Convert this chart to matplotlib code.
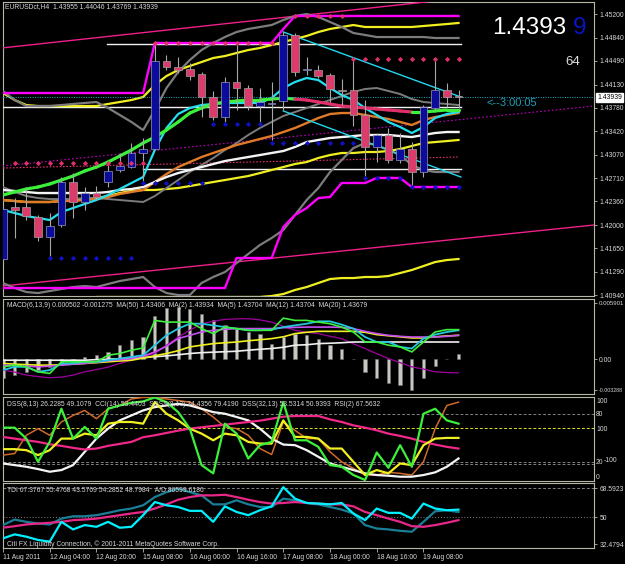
import matplotlib
matplotlib.use("Agg")
import matplotlib.pyplot as plt
import numpy as np
from matplotlib.collections import LineCollection
from matplotlib.transforms import blended_transform_factory

plt.rcParams['font.family'] = ['Liberation Sans', 'DejaVu Sans']

# ---------------- data ----------------
time_labels = ["11 Aug 2011", "12 Aug 04:00", "12 Aug 20:00", "15 Aug 08:00", "16 Aug 00:00",
               "16 Aug 16:00", "17 Aug 08:00", "18 Aug 00:00", "18 Aug 16:00", "19 Aug 08:00"]
time_label_bars = [0, 4, 8, 12, 16, 20, 24, 28, 32, 36]

opens = [1.41486, 1.42274, 1.42274, 1.42122, 1.41819, 1.42001, 1.42653, 1.42350, 1.42486, 1.42653,
         1.42835, 1.42880, 1.43093, 1.43153, 1.44487, 1.44396, 1.44366, 1.44290, 1.43942, 1.43638,
         1.44169, 1.44078, 1.43805, 1.43836, 1.43881, 1.44882, 1.44351, 1.44351, 1.44275, 1.44048,
         1.44048, 1.43669, 1.43184, 1.43366, 1.42986, 1.43153, 1.42805, 1.43775, 1.44048, 1.43955]
highs = [1.42304, 1.42410, 1.42562, 1.42153, 1.42183, 1.42729, 1.42789, 1.42577, 1.42592, 1.42911,
         1.43093, 1.43244, 1.43320, 1.44760, 1.44578, 1.44548, 1.44457, 1.44321, 1.44033, 1.44245,
         1.44730, 1.44124, 1.44078, 1.44169, 1.44927, 1.44912, 1.44548, 1.44427, 1.44305, 1.44215,
         1.44533, 1.43896, 1.43396, 1.43472, 1.43396, 1.43259, 1.43820, 1.44533, 1.44154, 1.44046]
lows = [1.41440, 1.41804, 1.42077, 1.41759, 1.41501, 1.41971, 1.42107, 1.42228, 1.42380, 1.42577,
        1.42805, 1.42865, 1.42638, 1.43138, 1.44351, 1.44305, 1.44199, 1.43638, 1.43593, 1.43563,
        1.43745, 1.43745, 1.43517, 1.43290, 1.43745, 1.44260, 1.44275, 1.44230, 1.43866, 1.43820,
        1.43502, 1.42683, 1.42956, 1.42941, 1.42941, 1.42577, 1.42729, 1.43745, 1.43790, 1.43769]
closes = [1.42244, 1.42228, 1.42137, 1.41819, 1.41986, 1.42653, 1.42350, 1.42486, 1.42425, 1.42820,
          1.42896, 1.43093, 1.43153, 1.44487, 1.44396, 1.44351, 1.44260, 1.43942, 1.43638, 1.44169,
          1.44078, 1.43805, 1.43866, 1.43851, 1.44882, 1.44321, 1.44366, 1.44260, 1.44063, 1.44033,
          1.43669, 1.43184, 1.43366, 1.42986, 1.43153, 1.42805, 1.43790, 1.44048, 1.43942, 1.43939]

price_ticks = [1.45200, 1.44840, 1.44490, 1.44130, 1.43780, 1.43420, 1.43070, 1.42710,
               1.42360, 1.42000, 1.41650, 1.41290, 1.40940]
last_price = 1.43939

chan_upper = [1.44002]*13 + [1.44760]*11 + [1.44973] + [1.45170]*15
chan_lower = [1.41046]*20 + [1.41501]*4 + [1.41971, 1.42153, 1.42259, 1.42410, 1.42426] + \
             [1.42638]*3 + [1.42714]*3 + [1.42577]*5
bb_upper = [1.44033, 1.43896, 1.43805, 1.43805, 1.43805, 1.43820, 1.43836, 1.43851, 1.43866, 1.43775,
            1.43669, 1.43563, 1.43441, 1.43745, 1.44078, 1.44321, 1.44503, 1.44654, 1.44760, 1.44851,
            1.44927, 1.44973, 1.45003, 1.45033, 1.45109, 1.45170, 1.45200, 1.45155, 1.45079, 1.45003,
            1.44912, 1.44882, 1.44851, 1.44851, 1.44851, 1.44851, 1.44851, 1.44836, 1.44836, 1.44836]
bb_lower = [1.41122, 1.41046, 1.40985, 1.40970, 1.41000, 1.41031, 1.41061, 1.41076, 1.41061, 1.41107,
            1.41152, 1.41182, 1.41213, 1.41061, 1.40970, 1.40940, 1.40940, 1.41122, 1.41213, 1.41288,
            1.41425, 1.41562, 1.41698, 1.41804, 1.41925, 1.42153, 1.42380, 1.42562, 1.42805, 1.42987,
            1.43168, 1.43244, 1.43214, 1.43138, 1.43062, 1.42911, 1.42835, 1.42805, 1.42805, 1.42805]
bb_mid = [1.42577, 1.42502, 1.42441, 1.42410, 1.42395, 1.42395, 1.42395, 1.42410, 1.42410, 1.42395,
          1.42380, 1.42365, 1.42350, 1.42441, 1.42562, 1.42683, 1.42805, 1.42911, 1.43017, 1.43138,
          1.43244, 1.43366, 1.43472, 1.43563, 1.43654, 1.43714, 1.43775, 1.43836, 1.43896, 1.43957,
          1.44018, 1.44063, 1.44078, 1.44033, 1.43987, 1.43911, 1.43866, 1.43851, 1.43836, 1.43820]
env_upper = [1.44002, 1.43896, 1.43820] + [1.43805]*6 + [1.43836, 1.43866, 1.43896, 1.43942,
             1.44124, 1.44260, 1.44351, 1.44412, 1.44472, 1.44533, 1.44563, 1.44609, 1.44654, 1.44685,
             1.44730, 1.44776, 1.44821, 1.44867, 1.44927, 1.44973, 1.45003, 1.45033] + [1.45003]*5 + \
            [1.45018, 1.45033, 1.45048, 1.45064]
env_mid = [1.42380, 1.42365, 1.42350, 1.42350, 1.42350, 1.42365, 1.42380, 1.42395, 1.42410, 1.42441,
           1.42486, 1.42517, 1.42532, 1.42532, 1.42547, 1.42562, 1.42592, 1.42623, 1.42653, 1.42683,
           1.42714, 1.42744, 1.42789, 1.42835, 1.42880, 1.42926, 1.42956, 1.43017, 1.43062, 1.43093,
           1.43093, 1.43108, 1.43108, 1.43123, 1.43153, 1.43199, 1.43244, 1.43259, 1.43274, 1.43290]
env_lower = [1.40864]*6 + [1.40879, 1.40894] + [1.40910]*15 + [1.40925, 1.40955, 1.41016, 1.41061,
             1.41122, 1.41182, 1.41197, 1.41197, 1.41213, 1.41213, 1.41228, 1.41273, 1.41319, 1.41379,
             1.41440, 1.41470, 1.41486]
ma_color = [1.42456, 1.42502, 1.42547, 1.42577, 1.42623, 1.42683, 1.42744, 1.42820, 1.42880, 1.42956,
            1.43047, 1.43138, 1.43244, 1.43335, 1.43441, 1.43563, 1.43699, 1.43775, 1.43836, 1.43866,
            1.43881, 1.43896, 1.43896, 1.43911, 1.43926, 1.43911, 1.43896, 1.43866, 1.43836, 1.43805,
            1.43790, 1.43775, 1.43760, 1.43745, 1.43730, 1.43714, 1.43714, 1.43730, 1.43745, 1.43745]
ma_up = [True]*26 + [False]*10 + [True]*4
ma_cyan = [1.42229, 1.42183, 1.42137, 1.42107, 1.42077, 1.42198, 1.42259, 1.42320, 1.42380, 1.42456,
           1.42547, 1.42638, 1.42729, 1.43138, 1.43472, 1.43684, 1.43775, 1.43820, 1.43836, 1.43851,
           1.43851, 1.43851, 1.43851, 1.43926, 1.44078, 1.44169, 1.44230, 1.44199, 1.44078, 1.43972,
           1.43896, 1.43775, 1.43669, 1.43563, 1.43487, 1.43396, 1.43487, 1.43623, 1.43684, 1.43714]
ma_white = [1.42532, 1.42517, 1.42502] + [1.42486]*6 + [1.42502, 1.42532, 1.42547, 1.42577,
            1.42653, 1.42729, 1.42789, 1.42835, 1.42880, 1.42926, 1.42971, 1.43002, 1.43032, 1.43062,
            1.43093, 1.43123, 1.43184, 1.43259, 1.43290, 1.43320, 1.43335, 1.43350] + [1.43366]*3 + \
           [1.43350, 1.43335, 1.43366, 1.43396, 1.43411, 1.43411]
ma_orange = [1.42380, 1.42365, 1.42350, 1.42350, 1.42350, 1.42365, 1.42365, 1.42380, 1.42395, 1.42426,
             1.42471, 1.42502, 1.42532, 1.42653, 1.42774, 1.42880, 1.42956, 1.43032, 1.43093, 1.43153,
             1.43214, 1.43259, 1.43305, 1.43350, 1.43411, 1.43472, 1.43547, 1.43623, 1.43684, 1.43699,
             1.43699, 1.43669, 1.43638, 1.43608, 1.43563, 1.43517, 1.43593, 1.43638, 1.43669, 1.43699]

# drawn objects: (bar, price) anchor points
trend_top = ([-0.1, 36.6], [1.44685, 1.45390])
trend_bottom = ([-0.05, 50.6], [1.41076, 1.42001])
trend_dotted = ([-0.05, 50.6], [1.42896, 1.43805])
trend_pink_dotted = ([0, 39], [1.42865, 1.43032])
cyan_chan_top = ([24, 39.2], [1.44927, 1.43942])
cyan_chan_bot = ([24, 39.2], [1.43730, 1.42729])
hlines_white = [(1.44745, 8.9, 39.2), (1.43797, -0.1, 39.2), (1.42850, 12, 39.2)]

pink_marks_bars = list(range(1, 13)) + list(range(13, 24)) + list(range(25, 30)) + list(range(30, 40))
pink_marks_vals = [1.42941]*12 + [1.44760]*11 + [1.45170]*5 + [1.44518]*10
blue_marks_bars = list(range(4, 12)) + list(range(12, 18)) + list(range(18, 23)) + list(range(23, 31)) + \
                  list(range(31, 35)) + list(range(35, 40))
blue_marks_vals = [1.41501]*8 + [1.42638]*6 + [1.43532]*5 + [1.43244]*8 + [1.42714]*4 + [1.42577]*5

# MACD window (values in 1e-4)
macd_hist = [-20.3, -16.9, -14.0, -11.6, -8.1, -4.5, -2.8, 2.4, 4.2, 7.7, 14.8, 20.0, 23.5, 45.6, 54.1,
             55.1, 53.4, 48.2, 41.1, 35.8, 32.4, 28.8, 27.1, 16.5, 23.5, 27.1, 25.3, 21.8, 14.8, 11.3,
             0.7, -13.4, -20.0, -25.6, -27.4, -32.7, -20.3, -7.1, 0.7, 5.0]
macd_green = [-8.1, -6.3, -8.1, -13.4, -15.1, -2.8, -2.8, -2.8, -2.8, 4.2, 6.0, 9.5, 11.9, 41.1, 39.3,
              39.3, 39.3, 32.4, 27.1, 34.0, 32.4, 30.6, 30.6, 30.6, 43.5, 41.1, 41.1, 39.3, 37.6, 34.0,
              28.8, 18.2, 18.2, 14.8, 13.0, 7.7, 18.2, 28.8, 31.3, 31.3]
macd_cyan = [-11.6, -8.1, -8.1, -13.4, -11.6, -4.5, -4.5, -2.8, -2.8, -1.1, 0.7, 2.4, 4.2, 14.8, 25.3,
             32.4, 37.6, 37.6, 35.8, 34.0, 32.4, 30.6, 30.6, 31.3, 34.0, 35.8, 37.6, 40.1, 40.1, 36.6,
             32.4, 23.5, 18.2, 18.2, 13.0, 11.3, 21.8, 26.0, 28.8, 30.6]
macd_violet = [-6.3, -6.9, -7.4, -8.1, -7.4, -6.3, -5.3, -4.5, -3.2, -1.6, -0.5, 0.7, 3.2, 7.7, 13.7,
               21.8, 25.3, 28.8, 30.6, 31.6, 32.4, 32.4, 32.4, 32.4, 33.4, 33.7, 34.0, 34.0, 34.0, 33.7,
               32.4, 29.5, 27.1, 25.3, 24.2, 23.5, 23.5, 23.5, 24.2, 25.3]
macd_yellow = [-4.5, -5.3, -5.8, -6.3, -6.3, -5.8, -5.3, -4.5, -3.7, -2.8, -1.9, -1.1, 1.1, 3.7, 6.0,
               9.0, 13.0, 14.8, 16.5, 17.4, 18.2, 19.5, 20.6, 21.8, 23.7, 27.1, 28.5, 29.5, 29.5, 29.5,
               29.5, 28.5, 26.0, 24.8, 23.7, 22.5, 22.5, 23.7, 24.6, 25.3]
macd_white = [-1.1]*8 + [-0.5, 0, 0.5, 0.7, 1.6, 2.6, 3.5, 4.7, 6.0, 6.9, 7.4, 7.9, 8.4, 9.5, 10.5,
              11.3, 12.6, 14.8, 15.3, 16.5, 16.9, 17.4] + [18.2]*10
macd_signal = [-11.6, -13.7, -16.9, -18.4, -19.7, -19.0, -16.9, -13.4, -11.1, -8.4, -4.5, -1.1, 2.6, 6.0,
               14.8, 23.5, 30.6, 37.6, 40.1, 42.2, 42.7, 42.9, 41.6, 39.3, 34.8, 30.6, 28.5, 27.1, 24.2,
               21.8, 16.3, 11.3, 5.8, 0.7, -3.7, -8.1, -10.5, -13.4, -14.2, -14.5]

# DSS / CCI window (0..100 scale)
dss_green = [64.5, 64.5, 50.2, 19.9, 45.9, 89.2, 50.2, 65.4, 50.2, 89.2, 93.5, 97.0, 98.7, 104.0, 97.8,
             84.8, 63.2, 15.6, 4.8, 69.7, 56.7, 24.2, 41.6, 45.9, 97.8, 48.0, 48.0, 39.4, 15.6, 13.4,
             2.6, -3.9, 32.0, 12.1, 41.6, 13.4, 82.7, 89.2, 74.0, 69.7]
dss_yellow = [36.4, 36.4, 35.1, 28.6, 35.1, 50.2, 50.2, 56.7, 54.5, 69.7, 71.9, 71.9, 69.7, 97.8, 82.7,
              74.0, 63.2, 56.7, 48.0, 56.7, 54.5, 45.9, 43.7, 43.7, 74.0, 52.4, 52.4, 50.2, 37.2, 37.2,
              19.9, 2.6, 9.1, 4.8, 17.7, 15.6, 41.6, 50.2, 51.1, 51.1]
dss_white = [17.7, 15.6, 13.4, 10.4, 6.9, 9.1, 15.6, 32.9, 50.2, 63.2, 74.0, 80.5, 87.0, 91.3, 93.5,
             95.6, 93.5, 89.2, 84.8, 82.7, 78.4, 74.0, 63.2, 50.2, 42.4, 41.6, 35.1, 26.4, 17.7, 13.4,
             9.1, 4.8, 2.6, 1.7, 0.4, 0.4, 2.6, 6.1, 13.4, 24.2]
dss_pink = [52.4, 50.2, 48.0, 45.9, 42.8, 40.7, 38.1, 35.9, 37.2, 40.7, 43.3, 45.9, 52.0, 54.5, 57.6,
            60.6, 63.2, 65.0, 66.7, 68.4, 70.2, 71.9, 73.6, 76.2, 78.8, 79.7, 79.7, 79.7, 75.3, 71.9,
            67.5, 64.5, 61.0, 56.7, 53.7, 50.2, 45.9, 42.4, 39.4, 37.2]
dss_orange = [28.6, 30.7, 54.5, 63.2, 54.5, 71.9, 80.5, 87.0, 76.2, 89.2, 93.5, 102.0, 104.0, 104.0,
              102.0, 99.9, 97.8, 89.2, 78.4, 65.4, 63.2, 54.5, 37.2, 29.4, 71.9, 61.0, 50.2, 50.2, 32.9,
              19.9, 11.3, 2.6, 2.6, 6.1, 4.8, 2.6, 19.9, 63.2, 93.5, 97.8]

# TDI window
tdi_price = [36.3, 38.9, 37.4, 35.3, 34.2, 47.0, 42.1, 44.9, 43.8, 47.0, 43.2, 43.8, 51.3, 59.8, 57.7,
             56.6, 54.1, 54.1, 47.0, 57.0, 53.4, 51.3, 54.5, 57.0, 69.4, 62.0, 59.2, 58.8, 58.3, 59.2,
             52.4, 48.1, 55.6, 52.8, 52.8, 49.1, 58.8, 55.6, 54.5, 54.9]
tdi_signal = [43.2, 44.2, 45.3, 45.9, 46.4, 47.0, 48.1, 48.5, 49.1, 50.2, 51.3, 52.4, 53.4, 55.6, 58.3,
              61.3, 63.0, 64.1, 64.1, 64.5, 63.0, 61.3, 59.8, 58.8, 59.2, 59.8, 59.2, 58.8, 58.3, 58.3,
              57.0, 53.4, 51.3, 49.1, 47.0, 44.2, 43.8, 44.9, 46.4, 48.1]
tdi_base = [44.9, 48.5, 47.0, 45.9, 45.3, 49.1, 50.6, 50.6, 51.3, 52.8, 54.5, 55.6, 57.7, 63.0, 66.2,
            68.4, 66.2, 64.1, 58.3, 58.3, 60.9, 58.3, 56.6, 56.6, 62.0, 60.9, 59.2, 58.3, 56.6, 54.9,
            52.4, 44.9, 42.7, 42.1, 41.2, 40.6, 47.0, 53.8, 54.5, 53.4]

# ---------------- figure ----------------
W, H = 625, 564
fig = plt.figure(figsize=(W / 100, H / 100), dpi=100, facecolor='black')
FRAME = '#B8B8A8'
TXT = '#D8D8D8'
FS = 4.9


def axrect(top, bottom, left=2.5, right=594):
    return [left / W, (H - bottom) / H, (right - left) / W, (bottom - top) / H]


n = len(opens)
x = np.arange(n)
XLIM = (-0.04, 50.6)

axes = []
for top, bottom in [(2, 296), (298.5, 394), (396.5, 481), (483, 548)]:
    a = fig.add_axes(axrect(top, bottom))
    a.set_facecolor('black')
    a.set_xlim(*XLIM)
    for s in a.spines.values():
        s.set_color(FRAME)
        s.set_linewidth(0.8)
    a.yaxis.tick_right()
    a.tick_params(axis='y', colors=FRAME, labelcolor=TXT, labelsize=FS, length=2.5, width=0.6, pad=1.5)
    a.tick_params(axis='x', bottom=False, labelbottom=False)
    axes.append(a)
ax, axm, axd, axt = axes

# ---- main price panel ----
ax.set_ylim(1.40925, 1.45382)
ax.set_yticks(price_ticks)
ax.set_yticklabels([f"{p:.5f}" for p in price_ticks])

ax.plot(*trend_top, color='#F0208A', lw=1.0, zorder=3)
ax.plot(*trend_bottom, color='#F0208A', lw=1.0, zorder=3)
ax.plot(*trend_dotted, color='#C000C0', lw=0.8, ls=(0, (1.5, 2)), zorder=3)
ax.plot(*trend_pink_dotted, color='#E0306A', lw=0.8, ls=(0, (1.5, 1.5)), zorder=3)
for val, x0, x1 in hlines_white:
    ax.plot([x0, x1], [val, val], color='#F0F0F0', lw=1.0, zorder=3)

ax.plot(x, env_lower, color='#F0F020', lw=1.6, zorder=3)
ax.plot(x, env_mid, color='#F0F020', lw=1.6, zorder=3)
ax.plot(x, env_upper, color='#F0F020', lw=1.6, zorder=3)
ax.plot(x, bb_upper, color='#7C7C7C', lw=1.6, zorder=3)
ax.plot(x, bb_lower, color='#7C7C7C', lw=1.6, zorder=3)
ax.plot(x, bb_mid, color='#7C7C7C', lw=1.4, zorder=3)
ax.plot(x, chan_upper, color='#FF00FF', lw=1.7, zorder=3)
ax.plot(x, chan_lower, color='#FF00FF', lw=1.7, zorder=3)
ax.plot(x, ma_orange, color='#E07A28', lw=1.7, zorder=3)
ax.plot(x, ma_white, color='#F4F4F4', lw=1.7, zorder=3)
ax.plot(x, ma_cyan, color='#22E0F0', lw=1.6, zorder=3)
segs = [[(i, ma_color[i]), (i + 1, ma_color[i + 1])] for i in range(n - 1)]
cols = ['#3CF03C' if ma_up[i + 1] else '#E0306A' for i in range(n - 1)]
ax.add_collection(LineCollection(segs, colors=cols, linewidths=2.3, capstyle='round', zorder=3))
ax.plot(*cyan_chan_top, color='#22D8F0', lw=1.0, zorder=3)
ax.plot(*cyan_chan_bot, color='#22D8F0', lw=1.0, zorder=3)

ax.axhline(last_price, color='#20B0D0', lw=0.7, ls=(0, (1, 1.5)), zorder=3)

ax.scatter(pink_marks_bars, pink_marks_vals, marker='D', s=7, color='#E0306A', zorder=7, linewidths=0)
ax.scatter(blue_marks_bars, blue_marks_vals, marker='D', s=7, color='#1010C8', zorder=7, linewidths=0)

o = np.array(opens); c = np.array(closes); h = np.array(highs); l = np.array(lows)
ax.vlines(x, l, h, color='#A8A8A8', lw=0.8, zorder=5)
bull = c >= o
body_b = np.minimum(o, c)
body_h = np.maximum(np.abs(c - o), 0.00004)
ax.bar(x[bull], body_h[bull], bottom=body_b[bull], width=0.66, color='#0C0C9C',
       edgecolor='#9898B8', linewidth=0.5, zorder=6)
ax.bar(x[~bull], body_h[~bull], bottom=body_b[~bull], width=0.66, color='#DC3C6C',
       edgecolor='#A0A0A0', linewidth=0.5, zorder=6)

tr = blended_transform_factory(ax.transAxes, ax.transData)
ax.text(1.0 + 3 / 591.5, last_price, "1.43939", transform=tr, fontsize=FS, color='black',
        va='center', ha='left', bbox=dict(facecolor='white', edgecolor='white', pad=0.6), zorder=10,
        clip_on=False)
ax.text(0.004, 0.984, "EURUSDct,H4  1.43955 1.44046 1.43769 1.43939", transform=ax.transAxes,
        fontsize=FS, color=TXT, va='center', ha='left')
ax.text(0.827, 0.912, "1.4393", transform=ax.transAxes, fontsize=17.5, color='white',
        va='center', ha='left')
ax.text(0.964, 0.912, "9", transform=ax.transAxes, fontsize=17.5, color='#0A14C8',
        va='center', ha='left')
ax.text(0.951, 0.797, "64", transform=ax.transAxes, fontsize=9.5, color='#E0E0E0',
        va='center', ha='left')
ax.text(0.819, 0.658, "<--3:00:05", transform=ax.transAxes, fontsize=8, color='#1E9EB8',
        va='center', ha='left')

# ---- MACD panel ----
scale = 1e-4
axm.set_ylim(-36.9 * scale, 64.3 * scale)
axm.set_yticks([59.01 * scale, 0, -32.88 * scale])
axm.set_yticklabels(['0.005901', '0.00', '-0.003288'])
axm.tick_params(axis='y', pad=1.0)
mlabels = axm.get_yticklabels()
mlabels[0].set_fontsize(4.4)
mlabels[2].set_fontsize(3.8)
axm.bar(x, np.array(macd_hist) * scale, width=0.28, color='#C8C8C0', edgecolor='#707070',
        linewidth=0.4, zorder=2)
axm.plot(x, np.array(macd_signal) * scale, color='#A000A0', lw=0.9, zorder=3)
axm.plot(x, np.array(macd_white) * scale, color='#F0F0F0', lw=1.2, zorder=3)
axm.plot(x, np.array(macd_yellow) * scale, color='#F0F020', lw=1.2, zorder=3)
axm.plot(x, np.array(macd_violet) * scale, color='#C850F0', lw=1.2, zorder=3)
axm.plot(x, np.array(macd_cyan) * scale, color='#22C8E0', lw=1.3, zorder=3)
axm.plot(x, np.array(macd_green) * scale, color='#3CF03C', lw=1.2, zorder=3)
axm.text(0.007, 0.93, "MACD(6,13,9) 0.000502 -0.001275  MA(50) 1.43406  MA(2) 1.43934  MA(5) 1.43704  "
         "MA(12) 1.43704  MA(20) 1.43679", transform=axm.transAxes, fontsize=FS, color=TXT,
         va='center', ha='left', zorder=5)

# ---- DSS panel ----
axd.set_ylim(-5.2, 105.2)
axd.set_yticks([99.5, 82.7, 63.6, 19.9, 1.3])
axd.set_yticklabels(['100', '80', '100', '20', '0'])
axd.tick_params(axis='y', length=0)
for lv, colr in [(82.7, '#808080'), (19.9, '#808080'), (16.9, '#808080'), (63.6, '#E0E020')]:
    axd.axhline(lv, color=colr, lw=0.7, ls=(0, (3, 2)), zorder=1)
axd.text(1.0 + 10 / 591.5, 21.0, "-100", transform=blended_transform_factory(axd.transAxes, axd.transData),
         fontsize=FS, color=TXT, va='center', ha='left', clip_on=False)
axd.plot(x, dss_orange, color='#D0692A', lw=1.1, zorder=3)
axd.plot(x, dss_white, color='#F4F4F4', lw=1.6, zorder=3)
axd.plot(x, dss_pink, color='#F02888', lw=1.6, zorder=3)
axd.plot(x, dss_yellow, color='#F0F020', lw=1.6, zorder=3)
axd.plot(x, dss_green, color='#3CF03C', lw=1.6, zorder=4)
axd.text(0.007, 0.9, "DSS(8,13) 26.2285 49.1079  CCI(14) 53.4403  SDSS(8,13) 34.4356 79.4190  "
         "DSS(32,13) 53.5314 50.9393  RSI(2) 67.5632", transform=axd.transAxes, fontsize=FS,
         color=TXT, va='center', ha='left', zorder=5)

# ---- TDI panel ----
axt.set_ylim(30.1, 72.1)
axt.set_yticks([68.5923, 50, 32.4794])
axt.set_yticklabels(['68.5923', '50', '32.4794'])
axt.axhline(68.5923, color='#808080', lw=0.7, ls=(0, (3, 2)), zorder=1)
axt.axhline(50, color='#808080', lw=0.7, ls=(0, (1, 2)), zorder=1)
axt.plot(x, tdi_base, color='#1A7F96', lw=1.6, zorder=3)
axt.plot(x, tdi_signal, color='#E82888', lw=1.6, zorder=3)
axt.plot(x, tdi_price, color='#00F0FF', lw=1.6, zorder=4)
axt.text(0.007, 0.88, "TDI 67.3767 55.4768 43.5769 54.2852 48.7984   A/D 86599.6186",
         transform=axt.transAxes, fontsize=FS, color=TXT, va='center', ha='left', zorder=5)
axt.text(0.007, 0.06, "Citi FX Liquidity Connection, \u00a9 2001-2011 MetaQuotes Software Corp.",
         transform=axt.transAxes, fontsize=FS, color=TXT, va='center', ha='left', zorder=5)

axt.set_xticks(time_label_bars)
axt.set_xticklabels(time_labels)
axt.tick_params(axis='x', bottom=True, labelbottom=True, colors=FRAME, labelcolor=TXT,
                labelsize=FS, length=3, width=0.6, pad=1.5, direction='out')
for lbl in axt.get_xticklabels():
    lbl.set_ha('left')

fig.savefig('out.png', dpi=100, facecolor='black')
